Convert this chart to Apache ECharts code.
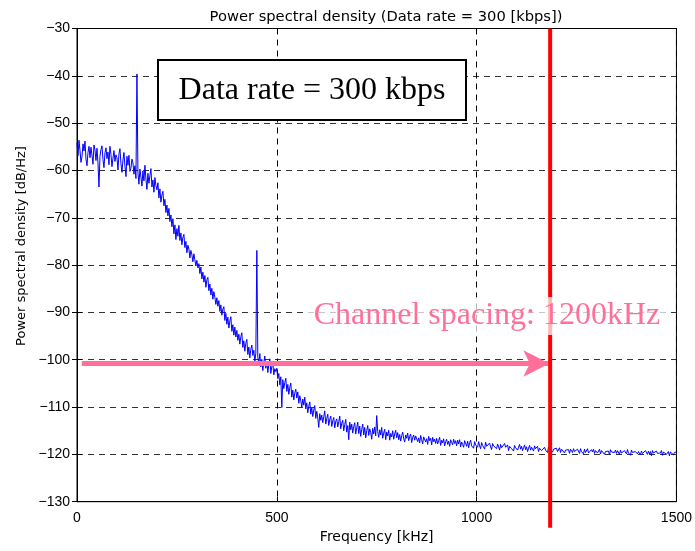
<!DOCTYPE html>
<html>
<head>
<meta charset="utf-8">
<script src="https://cdn.jsdelivr.net/npm/echarts@6/dist/echarts.min.js"></script>
<style>html,body{margin:0;padding:0;background:#fff}#c{width:695px;height:551px}</style>
</head>
<body>
<div id="c"></div>
<script>
// ---- data ----
const titleText = 'Power spectral density (Data rate = 300 [kbps])';
const xName = 'Frequency [kHz]';
const yName = 'Power spectral density [dB/Hz]';
const xTicks = [0, 500, 1000, 1500];
const yTicks = [-130, -120, -110, -100, -90, -80, -70, -60, -50, -40, -30];
const freqStartKHz = 0;
const freqStepKHz = 2.5;
// PSD values (dB/Hz), one per 2.5 kHz from 0 to 1500 kHz (20 values = 50 kHz per row)
const psd = [
 -54.2,-56.9,-53.6,-55.8,-58.3,-57.1,-54.4,-55.9,-53.8,-57.6,-59.0,-56.2,-54.9,-57.3,-55.1,-56.8,-58.7,-54.6,-55.7,-57.9,
 -55.3,-58.4,-63.5,-57.0,-55.6,-54.8,-57.7,-59.4,-56.3,-55.2,-57.5,-56.1,-58.8,-54.9,-56.6,-59.2,-57.4,-55.8,-58.1,-56.7,
 -57.3,-59.9,-56.5,-55.4,-58.6,-60.4,-57.8,-56.2,-59.1,-61.3,-57.0,-58.9,-56.8,-60.2,-59.5,-57.6,-58.4,-60.8,-59.0,-61.7,
 -39.6,-60.5,-62.9,-59.7,-61.4,-63.3,-60.1,-62.2,-58.9,-61.8,-64.0,-60.6,-62.7,-61.1,-59.6,-63.5,-62.0,-64.6,-61.5,-63.2,
 -64.1,-62.6,-65.8,-63.9,-66.7,-65.2,-64.4,-67.5,-66.1,-68.9,-67.3,-69.6,-68.0,-70.8,-69.4,-71.9,-70.2,-73.4,-71.5,-74.6,
 -72.3,-73.9,-71.6,-74.8,-73.2,-75.7,-74.1,-73.5,-76.3,-75.0,-77.4,-75.8,-76.6,-78.5,-76.9,-77.8,-79.3,-77.6,-78.9,-80.2,
 -79.0,-80.6,-79.7,-81.8,-80.4,-82.9,-81.5,-83.6,-82.2,-84.7,-83.1,-82.6,-85.4,-84.0,-86.3,-84.9,-87.2,-85.6,-86.8,-88.3,
 -86.9,-88.7,-87.5,-89.8,-88.4,-90.6,-89.3,-88.8,-91.7,-90.2,-92.5,-91.0,-93.3,-91.8,-90.9,-94.0,-92.6,-94.8,-93.1,-95.2,
 -93.8,-95.9,-94.6,-96.7,-95.1,-94.3,-97.4,-96.0,-98.2,-96.5,-95.7,-98.9,-97.3,-99.6,-97.8,-96.9,-99.1,-98.0,-100.4,-98.6,
 -76.9,-99.4,-100.9,-98.7,-101.5,-99.9,-102.3,-100.6,-99.2,-101.8,-100.3,-102.7,-101.0,-99.8,-102.9,-101.4,-100.7,-103.2,-101.9,-102.5,
 -101.8,-104.0,-102.9,-105.3,-103.6,-110.1,-104.2,-106.1,-104.8,-103.9,-106.7,-105.2,-107.3,-105.8,-104.9,-107.9,-106.4,-108.5,-107.0,-106.2,
 -108.1,-106.8,-109.2,-107.6,-108.7,-110.0,-108.3,-109.6,-107.9,-110.4,-109.1,-111.2,-109.8,-108.9,-111.5,-110.2,-112.0,-110.6,-109.7,-112.4,
 -110.9,-112.3,-114.3,-111.4,-112.8,-111.7,-113.3,-112.0,-110.8,-113.6,-112.4,-111.5,-113.9,-112.6,-111.9,-114.1,-112.9,-112.2,-114.4,-113.0,
 -112.5,-114.2,-113.1,-111.9,-114.6,-113.4,-112.8,-115.0,-113.7,-112.6,-115.3,-113.9,-116.9,-113.2,-114.8,-113.6,-115.5,-114.1,-113.3,-115.7,
 -114.4,-113.2,-115.6,-114.0,-116.2,-114.7,-113.6,-115.9,-114.3,-116.5,-115.0,-113.9,-116.0,-114.6,-115.4,-116.8,-114.5,-115.7,-114.2,-116.1,
 -111.8,-115.2,-116.4,-114.8,-115.9,-114.3,-116.6,-115.5,-114.7,-116.9,-115.3,-116.1,-114.9,-117.0,-115.6,-116.3,-115.0,-116.8,-115.7,-114.9,
 -116.5,-115.4,-116.9,-115.8,-117.2,-116.0,-115.3,-116.7,-117.4,-115.9,-116.6,-115.5,-117.1,-116.2,-115.7,-117.5,-116.4,-115.9,-117.0,-116.1,
 -115.8,-117.3,-116.5,-117.6,-116.0,-116.9,-117.8,-116.3,-115.9,-117.4,-116.7,-117.9,-116.2,-117.1,-116.6,-118.0,-116.4,-117.3,-116.8,-117.7,
 -116.6,-117.8,-117.1,-116.4,-118.1,-117.0,-117.6,-116.7,-118.2,-117.3,-116.8,-117.9,-117.2,-118.3,-116.9,-117.5,-118.0,-116.8,-117.7,-117.1,
 -118.2,-117.0,-117.8,-116.9,-118.4,-117.4,-117.9,-118.5,-117.1,-117.7,-118.3,-117.2,-118.6,-117.5,-117.0,-118.2,-117.8,-118.7,-117.3,-118.0,
 -117.6,-118.5,-117.3,-118.2,-118.8,-117.5,-118.1,-117.8,-118.9,-117.4,-118.3,-117.9,-118.7,-117.6,-118.4,-119.0,-117.7,-118.2,-118.6,-117.9,
 -118.8,-117.8,-118.4,-119.1,-117.9,-118.6,-118.2,-119.0,-117.7,-118.5,-118.9,-118.0,-119.2,-118.3,-117.9,-118.8,-118.4,-119.3,-118.1,-118.6,
 -118.2,-119.1,-118.5,-117.9,-118.9,-118.3,-119.2,-118.6,-118.0,-119.0,-118.4,-119.4,-118.7,-118.1,-119.1,-118.5,-118.9,-119.3,-118.2,-118.8,
 -119.0,-118.3,-119.4,-118.7,-118.4,-119.2,-118.9,-119.5,-118.5,-119.1,-118.8,-119.6,-118.4,-119.0,-119.3,-118.6,-119.5,-118.9,-118.5,-119.2,
 -118.7,-119.4,-119.0,-118.6,-119.6,-118.9,-119.3,-118.7,-119.7,-119.1,-118.8,-119.5,-119.0,-119.8,-118.9,-119.3,-119.6,-118.8,-119.4,-119.1,
 -119.5,-118.9,-119.3,-119.8,-118.8,-119.4,-119.1,-119.9,-118.9,-119.6,-119.2,-118.8,-119.7,-119.3,-119.9,-119.0,-119.5,-118.9,-119.8,-119.2,
 -119.0,-119.7,-119.3,-118.9,-119.9,-119.2,-119.6,-119.0,-120.0,-119.4,-119.1,-119.8,-119.3,-120.1,-119.0,-119.5,-119.9,-119.2,-119.6,-119.1,
 -119.8,-119.2,-119.5,-120.0,-119.1,-119.7,-119.3,-120.1,-119.2,-119.6,-119.9,-119.0,-119.7,-119.4,-120.2,-119.1,-119.6,-119.3,-120.0,-119.4,
 -119.2,-119.9,-119.4,-119.1,-120.1,-119.3,-119.8,-119.5,-120.2,-119.2,-119.6,-120.0,-119.3,-119.9,-119.4,-120.3,-119.2,-119.7,-119.5,-120.1,
 -119.3,-119.8,-120.1,-119.4,-119.7,-119.2,-120.2,-119.5,-119.9,-119.3,-120.0,-119.6,-119.4,-120.3,-119.5,-119.8,-119.2,-120.1,-119.6,-119.9,
 -119.5
];
// annotations
const boxText = 'Data rate = 300 kbps';
const spacingText = 'Channel spacing: 1200kHz';
const markerFreq = 1184;          // red vertical marker (as drawn)
const arrowStartFreq = 12;
const arrowLevel = -100.8;

// ---- chart ----
const points = psd.map((v, i) => [freqStartKHz + i * freqStepKHz, v]);
const chart = echarts.init(document.getElementById('c'), null, {renderer: 'canvas'});
const sans = 'Liberation Sans';
const wide = 'DejaVu Sans';
const serif = 'Liberation Serif';
const fmt = v => String(v).replace('-', '\u2212');

const option = {
  animation: false,
  backgroundColor: '#fff',
  title: {
    text: titleText, left: 381, top: 5, textAlign: 'center',
    textStyle: {fontFamily: wide, fontSize: 14.7, fontWeight: 'normal', color: '#000'}
  },
  grid: {left: 77, right: 18, top: 28.5, bottom: 49.3, show: true, borderColor: '#000', borderWidth: 1, backgroundColor: 'transparent'},
  xAxis: [{
    type: 'value', min: xTicks[0], max: xTicks[xTicks.length - 1], interval: 500,
    name: xName, nameLocation: 'middle', nameGap: 29,
    nameTextStyle: {fontFamily: wide, fontSize: 14, color: '#000'},
    axisLine: {show: true, lineStyle: {color: '#000', width: 1}},
    axisTick: {show: true, inside: true, length: 5, lineStyle: {color: '#000'}},
    axisLabel: {fontFamily: sans, fontSize: 14, color: '#000', margin: 9, formatter: fmt},
    splitLine: {show: true, lineStyle: {color: '#000', type: [6, 5], width: 1}}
  }, {
    type: 'value', position: 'top', min: xTicks[0], max: xTicks[xTicks.length - 1], interval: 500,
    axisLine: {show: true, lineStyle: {color: '#000'}},
    axisTick: {show: true, inside: true, length: 5, lineStyle: {color: '#000'}},
    axisLabel: {show: false}, splitLine: {show: false}
  }],
  yAxis: [{
    type: 'value', min: yTicks[0], max: yTicks[yTicks.length - 1], interval: 10,
    axisLine: {show: true, lineStyle: {color: '#000', width: 1}},
    axisTick: {show: true, inside: true, length: 5, lineStyle: {color: '#000'}},
    axisLabel: {fontFamily: sans, fontSize: 14, color: '#000', margin: 7, formatter: fmt},
    splitLine: {show: true, lineStyle: {color: '#333', type: [6, 5], width: 1}}
  }, {
    type: 'value', position: 'right', min: yTicks[0], max: yTicks[yTicks.length - 1], interval: 10,
    axisLine: {show: true, lineStyle: {color: '#000'}},
    axisTick: {show: true, inside: true, length: 5, lineStyle: {color: '#000'}},
    axisLabel: {show: false}, splitLine: {show: false}
  }],
  series: [{
    type: 'line', data: points, showSymbol: false, symbol: 'none',
    lineStyle: {color: '#0000ff', width: 1}, z: 3,
    markLine: {
      silent: true, animation: false,
      symbol: ['none', 'arrow'], symbolSize: [20, 26],
      label: {show: false},
      lineStyle: {color: '#ff6f9a', width: 5, type: 'solid'},
      data: [[{coord: [arrowStartFreq, arrowLevel]}, {coord: [markerFreq - 2, arrowLevel]}]]
    }
  }]
};
chart.setOption(option);

const xr = chart.convertToPixel({xAxisIndex: 0}, markerFreq);
const yTop = chart.convertToPixel({yAxisIndex: 0}, yTicks[yTicks.length - 1]);
const yBot = chart.convertToPixel({yAxisIndex: 0}, yTicks[0]);

chart.setOption({
  graphic: [
    {type: 'text', z: 40, x: 22, y: 246, rotation: Math.PI / 2,
     style: {text: yName, font: '13px "' + wide + '"', fill: '#000', align: 'center', verticalAlign: 'middle'}},
    {type: 'line', z: 50, shape: {x1: xr, y1: yTop, x2: xr, y2: yBot + 26},
     style: {stroke: '#ff0000', lineWidth: 4}},
    {type: 'rect', z: 60, shape: {x: 158, y: 60, width: 308, height: 60},
     style: {fill: '#fff', stroke: '#000', lineWidth: 2}},
    {type: 'text', z: 61, x: 312, y: 91,
     style: {text: boxText, font: '32px "' + serif + '"', fill: '#000', align: 'center', verticalAlign: 'middle'}},
    {type: 'text', z: 70, x: 487, y: 316,
     style: {text: spacingText, font: '32px "' + serif + '"', fill: '#ff6f9a', align: 'center', verticalAlign: 'middle',
             backgroundColor: 'rgba(255,255,255,0.72)', padding: [3, 6, 3, 6]}}
  ]
});
</script>
</body>
</html>
